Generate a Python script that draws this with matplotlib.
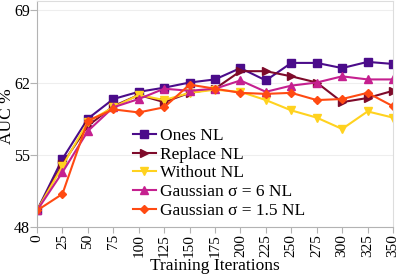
import matplotlib
matplotlib.use("Agg")
import matplotlib.pyplot as plt

plt.rcParams['font.family'] = ['Liberation Serif', 'DejaVu Serif']

iterations = [0, 25, 50, 75, 100, 125, 150, 175, 200, 225, 250, 275, 300, 325, 350]
ones_nl = [49.6, 54.6, 58.5, 60.4, 61.1, 61.5, 62.0, 62.3, 63.4, 62.2, 63.9, 63.9, 63.4, 64.0, 63.8]
replace_nl = [49.6, 54.1, 57.8, 59.7, 60.8, 60.1, 61.0, 61.4, 63.1, 63.1, 62.6, 62.0, 60.1, 60.5, 61.2]
without_nl = [49.6, 53.9, 58.2, 59.6, 60.8, 60.3, 61.0, 61.3, 61.1, 60.3, 59.3, 58.6, 57.5, 59.2, 58.6]
gauss6_nl = [49.6, 53.3, 57.3, 59.6, 60.4, 61.4, 61.2, 61.4, 62.2, 61.1, 61.7, 62.0, 62.6, 62.3, 62.3]
gauss15_nl = [49.6, 51.2, 58.3, 59.4, 59.1, 59.6, 61.8, 61.4, 61.0, 60.9, 61.0, 60.3, 60.4, 61.0, 59.7]

series = [
    ("Ones NL", ones_nl, "#4b0c8a", "s"),
    ("Replace NL", replace_nl, "#7e0a2a", ">"),
    ("Without NL", without_nl, "#ffd21f", "v"),
    ("Gaussian σ = 6 NL", gauss6_nl, "#c5208f", "^"),
    ("Gaussian σ = 1.5 NL", gauss15_nl, "#ff4a12", "D"),
]

fig = plt.figure(figsize=(3.99, 2.80), dpi=100)
ax = fig.add_axes([37 / 399, 53 / 280, 356 / 399, 226 / 280])

for name, vals, col, mk in series:
    ax.plot(iterations, vals, color=col, marker=mk, markersize=5.5 if mk != "D" else 4.5,
            lw=1.5, label=name)

ax.set_xlim(0, 350)
ax.set_ylim(48, 69.9)
ax.set_xticks(iterations)
ax.set_xticklabels([str(i) for i in iterations], rotation=90, fontsize=11)
ax.set_yticks([48, 55, 62, 69])
ax.tick_params(axis='y', labelsize=11.5, length=5, color='#b3b3b3', pad=0)
ax.tick_params(axis='x', length=4, color='#b3b3b3', pad=1)
ax.grid(axis='y', color='#eeeeee', lw=0.8)
ax.set_axisbelow(True)
for s in ax.spines.values():
    s.set_color('#b3b3b3')
    s.set_linewidth(0.8)
ax.spines['top'].set_color('#dddddd')
ax.spines['right'].set_color('#dddddd')

ax.set_xlabel("Training Iterations", fontsize=12.5, labelpad=1)
ax.set_ylabel("AUC %", fontsize=12.5)
ax.yaxis.set_label_coords(-0.063, 0.49)

ax.legend(loc="upper left", bbox_to_anchor=(0.25, 0.47), frameon=False, fontsize=12.5,
          handlelength=1.3, handletextpad=0.25, labelspacing=0.15, borderaxespad=0)

plt.savefig("out.png", dpi=100)
